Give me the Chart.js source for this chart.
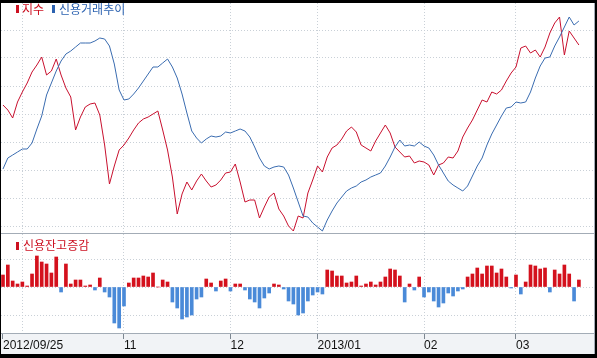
<!DOCTYPE html>
<html><head><meta charset="utf-8">
<script src="https://cdn.jsdelivr.net/npm/chart.js@4"></script>
<style>
html,body{margin:0;padding:0;background:#000;width:597px;height:358px;overflow:hidden}
#wrap{position:absolute;left:1px;top:3px;width:593px;height:351px;border-right:1px solid #a3acb6;background:linear-gradient(#fff 0,#fff 331px,#f1f3f6 331px)}
#c{position:absolute;left:0;top:0}
.mk{position:absolute;width:3px;height:8px}
.lg{position:absolute;font-family:"Noto Sans CJK KR";font-size:12px;line-height:14px;white-space:nowrap}
</style></head>
<body>
<div id="wrap">
<canvas id="c" width="593" height="351"></canvas>
<div class="mk" style="left:15px;top:2px;background:#cc1020"></div>
<div class="lg" style="left:21px;top:-1px;color:#cc1020">지수</div>
<div class="mk" style="left:51px;top:2px;background:#2c62b0"></div>
<div class="lg" style="left:58px;top:-1px;color:#2c62b0">신용거래추이</div>
<div class="mk" style="left:15px;top:239px;background:#cc1020"></div>
<div class="lg" style="left:22px;top:235px;color:#cc1020">신용잔고증감</div>
</div>
<script>
const dates = [
'2012/09/25','2012/09/26','2012/09/27','2012/09/28',
'2012/10/02','2012/10/04','2012/10/05','2012/10/08','2012/10/09','2012/10/10','2012/10/11','2012/10/12','2012/10/15','2012/10/16','2012/10/17','2012/10/18','2012/10/19','2012/10/22','2012/10/23','2012/10/24','2012/10/25','2012/10/26','2012/10/29','2012/10/30','2012/10/31',
'2012/11/01','2012/11/02','2012/11/05','2012/11/06','2012/11/07','2012/11/08','2012/11/09','2012/11/12','2012/11/13','2012/11/14','2012/11/15','2012/11/16','2012/11/19','2012/11/20','2012/11/21','2012/11/22','2012/11/23','2012/11/26','2012/11/27','2012/11/28','2012/11/29','2012/11/30',
'2012/12/03','2012/12/04','2012/12/05','2012/12/06','2012/12/07','2012/12/10','2012/12/11','2012/12/12','2012/12/13','2012/12/14','2012/12/17','2012/12/18','2012/12/20','2012/12/21','2012/12/24','2012/12/26','2012/12/27','2012/12/28',
'2013/01/02','2013/01/03','2013/01/04','2013/01/07','2013/01/08','2013/01/09','2013/01/10','2013/01/11','2013/01/14','2013/01/15','2013/01/16','2013/01/17','2013/01/18','2013/01/21','2013/01/22','2013/01/23','2013/01/24','2013/01/25','2013/01/28','2013/01/29','2013/01/30','2013/01/31',
'2013/02/01','2013/02/04','2013/02/05','2013/02/06','2013/02/07','2013/02/08','2013/02/12','2013/02/13','2013/02/14','2013/02/15','2013/02/18','2013/02/19','2013/02/20','2013/02/21','2013/02/22','2013/02/25','2013/02/26','2013/02/27','2013/02/28',
'2013/03/04','2013/03/05','2013/03/06','2013/03/07','2013/03/08','2013/03/11','2013/03/12','2013/03/13','2013/03/14','2013/03/15','2013/03/18','2013/03/19','2013/03/20','2013/03/21'
];

// 지수 (index line, relative units)
const indexSeries = [
121,116,108,124,134,143,154,161,169,151,
155,167,151,138,129,96,109,119,122,123,
111,81,42,60,76,81,88,96,103,107,
109,112,115,96,76,49,12,32,44,36,
45,52,45,39,41,46,53,54,62,44,
24,26,26,8,19,29,33,17,10,0,
-5,10,8,33,46,60,54,69,78,81,
87,95,99,94,81,78,75,85,93,101,
93,79,74,69,70,63,65,64,61,51,
61,63,69,68,75,89,98,106,116,126,
124,134,132,136,145,153,159,178,180,173,
176,169,179,193,203,209,171,195,188,181
];

// 신용거래추이 (credit trading trend line)
const creditSeries = [
57,68,71,74,77,77,83,97,110,131,
143,155,165,172,175,179,183,183,183,185,
188,187,180,162,136,126,127,132,138,145,
152,159,159,163,167,159,148,132,113,95,
88,83,87,90,89,90,94,93,95,97,
95,89,79,68,60,57,59,60,59,51,
38,24,10,9,3,-1,-5,6,15,23,
29,35,38,40,44,46,49,51,53,60,
69,79,86,80,81,80,84,80,78,71,
61,53,45,41,38,35,40,50,60,68,
81,92,101,110,118,119,124,123,124,134,
148,160,168,169,180,189,199,209,201,205
];

// 신용잔고증감 (credit balance change bars)
const balanceChange = [
12,22,6,3,5,1,13,31,25,23,
14,30,-5,23,3,7,7,1,2,-3,
9,-5,-10,-36,-41,-19,4,9,9,11,
10,14,0,7,5,-15,-21,-32,-30,-28,
-12,-10,8,4,-4,6,8,-4,3,3,
-3,-12,-15,-21,-11,-6,3,2,-2,-14,
-17,-28,-26,-14,-8,-5,-7,17,16,11,
11,4,5,11,1,3,5,2,5,10,
18,17,11,-15,3,-3,10,-10,-5,-14,
-20,-16,-6,-9,-4,-2,10,13,19,13,
21,21,14,18,10,-1,12,-7,5,22,
21,18,19,-5,17,13,22,13,-14,7
];

// month-start tick positions and their labels
const monthTicks = [];
dates.forEach((d, i) => { if (i === 0 || d.slice(0, 7) !== dates[i - 1].slice(0, 7)) monthTicks.push(i); });
function tickText(i) {
  if (i === 0) return dates[0];
  if (i < 15) return '';
  const d = dates[i], p = dates[i - 1];
  return d.slice(0, 4) !== p.slice(0, 4) ? d.slice(0, 7) : d.slice(5, 7);
}

const RED = '#c8102e', BLUE = '#3a6cb0';
const GRID = '#c9d0d7', AXIS = '#a3acb6';

const separator = {
  id: 'separator',
  afterDraw(chart) {
    const {ctx, chartArea, scales} = chart;
    const y = Math.round(scales.yL.bottom) + 0.5;
    ctx.save();
    ctx.strokeStyle = AXIS; ctx.lineWidth = 1;
    ctx.beginPath(); ctx.moveTo(chartArea.left, y); ctx.lineTo(chartArea.right, y); ctx.stroke();
    ctx.restore();
  }
};

new Chart(document.getElementById('c'), {
  type: 'bar',
  data: {
    datasets: [
      {type: 'line', label: '신용거래추이', data: creditSeries.map((v, i) => ({x: i, y: v})), yAxisID: 'yL',
       borderColor: BLUE, borderWidth: 1, pointRadius: 0, tension: 0, fill: false},
      {type: 'line', label: '지수', data: indexSeries.map((v, i) => ({x: i, y: v})), yAxisID: 'yL',
       borderColor: RED, borderWidth: 1, pointRadius: 0, tension: 0, fill: false},
      {type: 'bar', label: '신용잔고증감', data: balanceChange.map((v, i) => ({x: i, y: v})), yAxisID: 'yB',
       backgroundColor: balanceChange.map(v => v >= 0 ? '#d4111d' : '#4a8ad8'), barThickness: 3, borderWidth: 0}
    ]
  },
  options: {
    responsive: false, animation: false, devicePixelRatio: 1,
    layout: {padding: 0},
    plugins: {legend: {display: false}, tooltip: {enabled: false}},
    scales: {
      x: {
        type: 'linear', position: 'bottom', min: -0.413, max: 122.12, offset: false,
        afterBuildTicks: ax => { ax.ticks = monthTicks.map(v => ({value: v})); },
        afterFit: sc => { sc.height = 21; },
        ticks: {autoSkip: false, maxRotation: 0, minRotation: 0, align: 'start', padding: 1, color: '#111',
                font: {family: 'Liberation Sans', size: 12, lineHeight: 1}, callback: v => tickText(v)},
        grid: {offset: false, color: c => (c.tick && c.tick.value === 0) ? 'rgba(0,0,0,0)' : GRID, lineWidth: 1, drawTicks: true, tickLength: 6,
               tickColor: c => (c.tick && tickText(c.tick.value) === '') ? 'rgba(0,0,0,0)' : '#7d8791', tickBorderDash: []},
        border: {display: true, color: AXIS, width: 1, dash: [1, 2]}
      },
      yB: {
        type: 'linear', position: 'left', stack: 'panels', stackWeight: 100, weight: 0, min: -46, max: 54,
        ticks: {display: false, stepSize: 28, includeBounds: false},
        grid: {color: GRID, drawTicks: false},
        border: {display: false, dash: [1, 2]}
      },
      yL: {
        type: 'linear', position: 'left', stack: 'panels', stackWeight: 230, weight: 1, min: -7, max: 223,
        ticks: {display: false, stepSize: 28, includeBounds: false},
        grid: {color: GRID, drawTicks: false},
        border: {display: false, dash: [1, 2]}
      }
    }
  },
  plugins: [separator]
});
</script>
</body></html>
